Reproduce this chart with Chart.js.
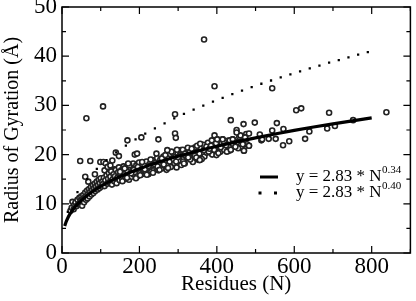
<!DOCTYPE html>
<html>
<head>
<meta charset="utf-8">
<script src="https://cdn.jsdelivr.net/npm/chart.js@4"></script>
<style>
  body { margin: 0; background: #fff; }
</style>
</head>
<body>
<canvas id="myChart" width="416" height="301"></canvas>
<script>
// scattered proteins: residue count and radius of gyration
const residues = [
  22, 25, 27, 30, 32, 35, 37, 40, 42, 45, 46, 48, 50, 52, 53, 55, 57, 58, 60, 62,
  63, 65, 66, 68, 70, 71, 73, 75, 76, 78, 80, 81, 83, 85, 86, 88, 90, 92, 93, 95,
  97, 98, 100, 102, 104,
  47, 68, 73, 99, 107, 113, 110, 118, 139, 147, 63, 106, 60, 85, 125, 130, 135,
  106, 108, 110, 112, 115, 117, 119, 121, 123, 125, 127, 129, 131, 133, 135, 137, 139, 141,
  143, 145, 147, 149, 151, 153, 155, 157, 159, 161, 163, 165, 167, 169, 171, 173, 175, 177,
  180, 182, 184, 186, 188, 190, 192, 195, 197, 199, 201, 204, 206, 208, 211, 213, 216, 218,
  221, 223, 226, 228, 231, 233, 236, 238, 241, 244, 246, 249, 251, 254, 257, 259, 262, 265,
  268, 270, 273, 276, 279, 281, 284, 287, 290, 293, 296, 299,
  302, 305, 308, 311, 314, 317, 320, 323, 326, 329, 332, 335, 338, 341, 344, 347, 350, 353,
  356, 359, 362, 365, 368, 371, 374, 377, 381, 385, 388, 392, 396, 399, 401, 405, 409, 413,
  415, 419, 424, 428, 432, 436, 441, 441, 448, 452, 458, 463, 470, 473, 478, 483,
  150, 156, 162, 168, 174, 179, 185, 191, 196, 202, 207, 214, 219, 224, 229, 235, 240, 247,
  252, 258, 263, 267, 274, 278, 283, 288, 295, 300, 307, 313, 319, 325, 331, 337, 343, 349,
  355, 361, 367, 373, 379, 387, 393, 398, 404, 410, 418, 426, 433, 445, 455, 461, 467, 476,
  169, 171, 188, 194, 205, 244, 249, 272, 292, 292, 294, 297, 312,
  315, 318, 326, 330, 335, 347, 356, 357, 381, 385, 394, 401, 415, 424, 436, 441, 441, 448,
  451, 451, 469, 470, 473, 483, 483, 436, 367, 394,
  498, 511, 515, 517, 534, 543, 552, 555, 571, 572, 587, 605, 618, 628, 639, 685, 690, 705,
  752, 838, 543
];
const radius = [
  8.6, 9.2, 10.4, 8.9, 9.8, 10.3, 9.5, 10.8, 9.9, 11.2, 10.1, 10.6, 11.5, 9.6, 10.9, 11.8, 10.3, 11.2, 12.3, 10.8,
  11.6, 12.7, 11.1, 12.0, 13.0, 11.5, 12.4, 13.4, 11.9, 12.8, 13.8, 12.2, 13.1, 14.1, 12.6, 13.5, 14.5, 12.9, 13.8, 14.9,
  13.2, 14.2, 15.2, 13.5, 14.5,
  18.7, 14.5, 18.7, 18.5, 18.5, 18.2, 16.8, 17.5, 20.4, 19.7, 27.4, 29.8, 15.5, 16.0, 17.8, 18.8, 17.0,
  14.0, 15.3, 13.6, 14.8, 15.8, 14.1, 15.1, 16.2, 14.4, 15.5, 16.6, 13.9, 15.0, 16.0, 14.6, 15.6, 16.9, 14.2,
  15.3, 16.4, 17.4, 14.8, 15.9, 16.8, 15.2, 16.3, 17.6, 15.0, 16.1, 17.0, 15.6, 16.6, 18.0, 14.9, 16.0, 17.3,
  15.5, 16.7, 18.2, 15.9, 17.0, 16.3, 17.8, 15.6, 16.9, 18.4, 16.2, 17.4, 16.0, 18.0, 16.8, 17.8, 16.5, 18.6,
  17.2, 16.0, 18.1, 17.5, 16.6, 18.9, 17.8, 16.9, 18.4, 17.3, 19.3, 16.8, 18.2, 19.0, 17.2, 18.7, 19.6, 17.8,
  18.9, 16.9, 19.4, 18.1, 20.1, 17.5, 19.0, 20.4, 18.3, 19.5, 17.4, 20.2,
  18.8, 19.9, 17.9, 20.6, 19.1, 18.2, 20.3, 19.4, 19.4, 21.0, 20.5, 21.2, 18.5, 20.0, 21.5, 19.4, 20.6, 18.9,
  18.9, 21.3, 20.1, 22.0, 19.6, 21.0, 20.4, 22.4, 21.2, 21.8, 20.0, 22.6, 21.4, 19.9, 23.1, 21.9, 20.6, 22.3,
  23.1, 21.0, 21.9, 22.8, 20.8, 21.0, 23.1, 22.2, 21.6, 22.5, 23.6, 21.4, 20.8, 23.5, 22.1, 21.8,
  16.5, 14.6, 17.2, 15.3, 17.8, 16.2, 16.9, 15.2, 17.5, 15.8, 18.5, 17.0, 15.9, 17.7, 19.0, 16.3, 18.0, 17.6,
  16.9, 19.2, 18.0, 19.9, 17.3, 18.6, 20.6, 19.1, 18.6, 19.5, 20.9, 18.6, 19.8, 21.4, 19.0, 20.3, 19.8, 21.8,
  20.2, 19.1, 20.9, 21.6, 20.6, 22.9, 21.0, 22.3, 20.3, 21.5, 22.6, 20.6, 22.9, 22.6, 21.3, 23.9, 22.1, 24.2,
  22.9, 18.2, 20.0, 20.2, 23.5, 20.2, 23.1, 20.9, 28.2, 24.3, 23.4, 21.0, 21.0,
  18.2, 20.2, 19.4, 20.5, 21.2, 19.4, 18.9, 22.2, 21.2, 21.8, 23.9, 23.1, 23.1, 21.9, 21.0, 23.1, 22.2, 21.6,
  25.0, 24.5, 26.2, 20.8, 23.5, 21.8, 24.3, 27.0, 43.4, 33.9,
  26.5, 24.1, 22.9, 23.1, 23.2, 24.9, 23.2, 26.4, 21.9, 25.2, 22.7, 29.0, 29.4, 23.2, 24.7, 25.3, 28.5, 25.8,
  27.0, 28.6, 33.5
];

// y = 2.83 * N^0.34 (solid)
const fitN = [7, 10, 15, 20, 30, 40, 50, 65, 80, 100, 125, 150, 175, 200, 250, 300, 350, 400, 450, 500, 550, 600, 650, 700, 750, 800];
const fit034 = [5.48, 6.19, 7.11, 7.84, 9.00, 9.92, 10.70, 11.70, 12.55, 13.54, 14.61, 15.55, 16.38, 17.14, 18.50, 19.68, 20.74, 21.70, 22.59, 23.41, 24.18, 24.91, 25.60, 26.25, 26.87, 27.47];

// y = 2.83 * N^0.40 (dotted)
const dotN = [15, 40, 65, 90, 115, 140, 165, 190, 215, 240, 265, 290, 315, 340, 365, 390, 415, 440, 465, 490, 515, 540, 565, 590, 615, 640, 665, 690, 715, 740, 765, 790];
const fit040 = [8.36, 12.38, 15.03, 17.12, 18.89, 20.43, 21.82, 23.08, 24.26, 25.35, 26.37, 27.34, 28.26, 29.14, 29.97, 30.78, 31.55, 32.30, 33.02, 33.72, 34.40, 35.06, 35.70, 36.32, 36.93, 37.52, 38.10, 38.67, 39.22, 39.77, 40.30, 40.82];

const legendRows = [
  { text: "y = 2.83 * N", sup: "0.34", style: "solid" },
  { text: "y = 2.83 * N", sup: "0.40", style: "dotted" },
];

const serif = "'Liberation Serif', 'Times New Roman', serif";

function pairs(xs, ys) {
  return xs.map((v, i) => ({ x: v, y: ys[i] }));
}

// box, inward ticks on all four sides, and the little legend
const frame = {
  id: "frame",
  afterDatasetsDraw(chart) {
    const { ctx, chartArea: a, scales: { x, y } } = chart;
    ctx.save();
    ctx.strokeStyle = "#000";
    ctx.lineWidth = 1.2;
    ctx.beginPath();
    for (let v = 0; v <= 900; v += 100) {
      const px = x.getPixelForValue(v);
      const len = v % 200 === 0 ? 7 : 4;
      ctx.moveTo(px, a.bottom);
      ctx.lineTo(px, a.bottom - len);
      ctx.moveTo(px, a.top);
      ctx.lineTo(px, a.top + len);
    }
    for (let v = 0; v <= 50; v += 5) {
      const py = y.getPixelForValue(v);
      const len = v % 10 === 0 ? 7 : 4;
      ctx.moveTo(a.left, py);
      ctx.lineTo(a.left + len, py);
      ctx.moveTo(a.right, py);
      ctx.lineTo(a.right - len, py);
    }
    ctx.stroke();
    ctx.lineWidth = 1.5;
    ctx.strokeRect(a.left, a.top, a.right - a.left, a.bottom - a.top);

    // legend
    const lx = a.left + 198;
    const tx = a.left + 234;
    legendRows.forEach((row, i) => {
      const cy = a.top + 170 + i * 16;
      ctx.fillStyle = "#000";
      if (row.style === "solid") {
        ctx.lineWidth = 3;
        ctx.beginPath();
        ctx.moveTo(lx, cy);
        ctx.lineTo(lx + 18, cy);
        ctx.stroke();
      } else {
        ctx.fillRect(lx - 1.5, cy - 1.5, 3, 3);
        ctx.fillRect(lx + 14, cy - 1.5, 3, 3);
      }
      ctx.font = "17px " + serif;
      ctx.textBaseline = "alphabetic";
      ctx.textAlign = "left";
      const base = cy + 4;
      ctx.fillText(row.text, tx, base);
      const w = ctx.measureText(row.text).width;
      ctx.font = "11px " + serif;
      ctx.fillText(row.sup, tx + w + 0.5, base - 8);
    });
    ctx.restore();
  },
};

document.addEventListener("DOMContentLoaded", function () {
  const ctx = document.getElementById("myChart").getContext("2d");
  const myChart = new Chart(ctx, {
    type: "scatter",
    data: {
      datasets: [
        {
          label: "y = 2.83 * N^0.34",
          data: pairs(fitN, fit034),
          showLine: true,
          borderColor: "#000",
          borderWidth: 3.2,
          pointRadius: 0,
          cubicInterpolationMode: "monotone",
        },
        {
          label: "y = 2.83 * N^0.40",
          data: pairs(dotN, fit040),
          showLine: false,
          pointStyle: "rect",
          pointRadius: 1.6,
          backgroundColor: "#000",
          borderWidth: 0,
        },
        {
          label: "proteins",
          data: pairs(residues, radius),
          pointStyle: "circle",
          pointRadius: 2.5,
          borderWidth: 1.6,
          borderColor: "#222",
          backgroundColor: "#fff",
        },
      ],
    },
    options: {
      responsive: false,
      animation: false,
      layout: { padding: { top: 7, right: 1, left: 0, bottom: 0 } },
      plugins: {
        legend: { display: false },
        tooltip: { enabled: false },
      },
      scales: {
        x: {
          type: "linear",
          min: 0,
          max: 900,
          grid: { display: false, drawTicks: false },
          border: { display: false },
          ticks: {
            stepSize: 200,
            includeBounds: false,
            padding: 0,
            maxRotation: 0,
            color: "#000",
            font: { family: serif, size: 23 },
          },
          title: {
            display: true,
            text: "Residues (N)",
            color: "#000",
            font: { family: serif, size: 21 },
            padding: { top: 0, bottom: 4 },
          },
          afterFit(s) {
            s.height = 48;
            s.paddingLeft = 0;
            s.paddingRight = 0;
          },
        },
        y: {
          type: "linear",
          min: 0,
          max: 50,
          grid: { display: false, drawTicks: false },
          border: { display: false },
          ticks: {
            stepSize: 10,
            padding: 5,
            color: "#000",
            font: { family: serif, size: 23 },
          },
          title: {
            display: true,
            text: "Radius of Gyration (Å)",
            color: "#000",
            font: { family: serif, size: 20 },
            padding: { top: 1, bottom: 0 },
          },
          afterFit(s) {
            s.width = 62;
            s.paddingTop = 0;
            s.paddingBottom = 0;
          },
        },
      },
    },
    plugins: [frame],
  });
});
</script>
</body>
</html>
